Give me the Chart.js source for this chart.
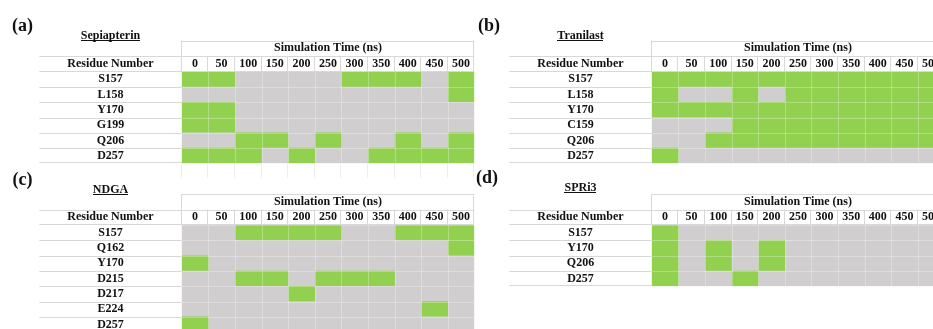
<!DOCTYPE html>
<html>
<head>
<meta charset="utf-8">
<script src="https://cdn.jsdelivr.net/npm/chart.js@4.4.1/dist/chart.umd.min.js"></script>
<style>
  html, body { margin: 0; padding: 0; background: #fff; }
  body { width: 933px; height: 329px; overflow: hidden; position: relative; }
  canvas { position: absolute; }
</style>
</head>
<body>
<canvas id="panelA" width="480" height="180" style="left:0px;top:0px"></canvas>
<canvas id="panelB" width="480" height="170" style="left:470px;top:0px"></canvas>
<canvas id="panelC" width="480" height="182" style="left:0px;top:153px"></canvas>
<canvas id="panelD" width="480" height="136" style="left:470px;top:153px"></canvas>
<script>
// Simulation time columns (ns)
const timeLabels = ['0', '50', '100', '150', '200', '250', '300', '350', '400', '450', '500'];

// Contact maps: 1 = residue in contact with the ligand at that time, 0 = no contact
const sepiapterinResidues = ['S157', 'L158', 'Y170', 'G199', 'Q206', 'D257'];
const sepiapterinContacts = [
  [1, 1, 0, 0, 0, 0, 1, 1, 1, 0, 1],
  [0, 0, 0, 0, 0, 0, 0, 0, 0, 0, 1],
  [1, 1, 0, 0, 0, 0, 0, 0, 0, 0, 0],
  [1, 1, 0, 0, 0, 0, 0, 0, 0, 0, 0],
  [0, 0, 1, 1, 0, 1, 0, 0, 1, 0, 1],
  [1, 1, 1, 0, 1, 0, 0, 1, 1, 1, 1]
];

const tranilastResidues = ['S157', 'L158', 'Y170', 'C159', 'Q206', 'D257'];
const tranilastContacts = [
  [1, 1, 1, 1, 1, 1, 1, 1, 1, 1, 1],
  [1, 0, 0, 1, 0, 1, 1, 1, 1, 1, 1],
  [1, 1, 1, 1, 1, 1, 1, 1, 1, 1, 1],
  [0, 0, 0, 1, 1, 1, 1, 1, 1, 1, 1],
  [0, 0, 1, 1, 1, 1, 1, 1, 1, 1, 1],
  [1, 0, 0, 0, 0, 0, 0, 0, 0, 0, 0]
];

const ndgaResidues = ['S157', 'Q162', 'Y170', 'D215', 'D217', 'E224', 'D257'];
const ndgaContacts = [
  [0, 0, 1, 1, 1, 1, 0, 0, 1, 1, 1],
  [0, 0, 0, 0, 0, 0, 0, 0, 0, 0, 1],
  [1, 0, 0, 0, 0, 0, 0, 0, 0, 0, 0],
  [0, 0, 1, 1, 0, 1, 1, 1, 0, 0, 0],
  [0, 0, 0, 0, 1, 0, 0, 0, 0, 0, 0],
  [0, 0, 0, 0, 0, 0, 0, 0, 0, 1, 0],
  [1, 0, 0, 0, 0, 0, 0, 0, 0, 0, 0]
];

const spri3Residues = ['S157', 'Y170', 'Q206', 'D257'];
const spri3Contacts = [
  [1, 0, 0, 0, 0, 0, 0, 0, 0, 0, 0],
  [1, 0, 1, 0, 1, 0, 0, 0, 0, 0, 0],
  [1, 0, 1, 0, 1, 0, 0, 0, 0, 0, 0],
  [1, 0, 0, 1, 0, 0, 0, 0, 0, 0, 0]
];

// Styling
const GREEN = '#92d050';
const GRAY = '#d0cece';
const RULE = '#d8d8d8';
const INK = '#111111';
const FAMILY = '"Liberation Serif", "Times New Roman", serif';

// Table geometry, in px within each canvas
const LABEL_LEFT = 39.3;   // left edge of the residue column
const DATA_LEFT = 181.7;   // left edge of the first time column
const COL_W = 26.6;        // width of one time column
const HEAD_TOP = 40.7;     // top of the "Simulation Time" header cell
const HEAD_H = 15.3;       // header cell height
const AXIS_H = 31;         // both header rows together
const ROW_H = 15.27;       // one residue row

Chart.defaults.font.family = FAMILY;

const measure = document.createElement('canvas').getContext('2d');
measure.font = 'bold 12px ' + FAMILY;

// Keeps the axes from reserving extra room for their outer labels
function clearScalePadding(s) {
  s.paddingTop = 0;
  s.paddingBottom = 0;
  s.paddingLeft = 0;
  s.paddingRight = 0;
}

// Draws the table frame, the panel letter, the compound name and the row header text
const panelTable = {
  id: 'panelTable',
  afterDatasetsDraw(chart) {
    const { ctx, chartArea: a, scales: { x, y } } = chart;
    const n = chart.data.labels.length;
    ctx.save();
    ctx.strokeStyle = 'rgba(255,255,255,0.28)';
    ctx.lineWidth = 1;
    ctx.beginPath();
    for (let c = 1; c < timeLabels.length; c++) {
      const p = Math.round(x.getPixelForValue(c)) + 0.5;
      ctx.moveTo(p, a.top); ctx.lineTo(p, a.bottom);
    }
    for (let r = 1; r < n; r++) {
      const p = Math.round((y.getPixelForValue(r - 1) + y.getPixelForValue(r)) / 2) + 0.5;
      ctx.moveTo(a.left, p); ctx.lineTo(a.right, p);
    }
    ctx.stroke();
    ctx.restore();
  },
  afterDraw(chart, args, o) {
    const { ctx, chartArea: a, scales: { x, y } } = chart;
    const n = chart.data.labels.length;
    const headTop = x.top;
    const timeTop = x.top + HEAD_H;
    const left = y.left;
    const hLine = (yy, x0, x1) => { const p = Math.round(yy) + 0.5; ctx.moveTo(x0, p); ctx.lineTo(x1, p); };
    const vLine = (xx, y0, y1) => { const p = Math.round(xx) - 0.5; ctx.moveTo(p, y0); ctx.lineTo(p, y1); };

    ctx.save();
    ctx.strokeStyle = RULE;
    ctx.lineWidth = 1;
    ctx.beginPath();
    hLine(headTop, a.left, a.right);
    hLine(timeTop, left, a.right);
    hLine(a.top - 1, left, a.right);
    for (let r = 1; r < n; r++) {
      hLine((y.getPixelForValue(r - 1) + y.getPixelForValue(r)) / 2, left, a.left);
    }
    hLine(a.bottom - 1, left, a.left);
    vLine(a.left, headTop, a.top);
    vLine(a.right, headTop, a.top);
    for (let c = 1; c < timeLabels.length; c++) {
      vLine(x.getPixelForValue(c), timeTop, a.top);
    }
    ctx.stroke();

    if (o.trail) {
      ctx.strokeStyle = '#eeeeee';
      ctx.beginPath();
      for (let c = 0; c <= timeLabels.length; c++) {
        vLine(x.getPixelForValue(c), a.bottom, a.bottom + o.trail);
      }
      ctx.stroke();
    }

    const midX = (left + a.left) / 2;
    ctx.fillStyle = INK;
    ctx.font = 'bold 12px ' + FAMILY;
    ctx.textAlign = 'center';
    ctx.textBaseline = 'middle';
    ctx.fillText('Residue Number', midX, (timeTop + a.top) / 2);

    ctx.textBaseline = 'alphabetic';
    ctx.fillText(o.name, midX, o.nameY);
    const w = ctx.measureText(o.name).width;
    ctx.fillRect(Math.round(midX - w / 2), Math.round(o.nameY + 1), Math.round(w), 1);

    ctx.font = 'bold 18px ' + FAMILY;
    ctx.textAlign = 'left';
    ctx.fillText(o.letter, o.letterX, o.letterY);
    ctx.restore();
  }
};

function makePanel(id, residues, contacts, cfg) {
  const el = document.getElementById(id);
  const W = el.width, H = el.height;
  const top = HEAD_TOP + cfg.dy;
  const widest = Math.max(...residues.map(r => measure.measureText(r).width));
  const labelPad = (DATA_LEFT - LABEL_LEFT) / 2 - widest / 2;

  return new Chart(el, {
    type: 'bar',
    data: {
      labels: residues,
      datasets: timeLabels.map((t, c) => ({
        label: t + ' ns',
        data: residues.map(() => 1),
        backgroundColor: contacts.map(row => (row[c] ? GREEN : GRAY)),
        borderWidth: 0,
        barPercentage: 1,
        categoryPercentage: 1
      }))
    },
    options: {
      indexAxis: 'y',
      responsive: false,
      animation: false,
      events: [],
      layout: {
        padding: {
          left: LABEL_LEFT,
          top: top,
          right: W - (DATA_LEFT + timeLabels.length * COL_W),
          bottom: H - (top + AXIS_H + residues.length * ROW_H)
        }
      },
      scales: {
        x: {
          type: 'linear',
          position: 'top',
          stacked: true,
          min: 0,
          max: timeLabels.length,
          grid: { display: false, drawTicks: false },
          border: { display: false },
          title: {
            display: true,
            text: 'Simulation Time (ns)',
            color: INK,
            font: { size: 12, weight: 'bold' },
            padding: { top: 0.5, bottom: 0 }
          },
          afterBuildTicks: s => { s.ticks = timeLabels.map((t, i) => ({ value: i + 0.5 })); },
          afterFit: s => { s.height = AXIS_H; clearScalePadding(s); },
          ticks: {
            autoSkip: false,
            maxRotation: 0,
            minRotation: 0,
            padding: 0.6,
            color: INK,
            font: { size: 12, weight: 'bold' },
            callback: (v, i) => timeLabels[i]
          }
        },
        y: {
          type: 'category',
          stacked: true,
          grid: { display: false, drawTicks: false },
          border: { display: false },
          afterFit: s => { s.width = DATA_LEFT - LABEL_LEFT; clearScalePadding(s); },
          ticks: {
            autoSkip: false,
            crossAlign: 'center',
            padding: labelPad,
            color: INK,
            font: { size: 12, weight: 'bold' }
          }
        }
      },
      plugins: {
        legend: { display: false },
        tooltip: { enabled: false },
        panelTable: cfg
      }
    },
    plugins: [panelTable]
  });
}

makePanel('panelA', sepiapterinResidues, sepiapterinContacts,
  { dy: 0, letter: '(a)', name: 'Sepiapterin', letterX: 12, letterY: 31, nameY: 38.5, trail: 15 });
makePanel('panelB', tranilastResidues, tranilastContacts,
  { dy: 0, letter: '(b)', name: 'Tranilast', letterX: 8, letterY: 31, nameY: 38.5 });
makePanel('panelC', ndgaResidues, ndgaContacts,
  { dy: 0.5, letter: '(c)', name: 'NDGA', letterX: 12.5, letterY: 32, nameY: 39.5 });
makePanel('panelD', spri3Residues, spri3Contacts,
  { dy: 0.5, letter: '(d)', name: 'SPRi3', letterX: 6, letterY: 30, nameY: 38 });
</script>
</body>
</html>
